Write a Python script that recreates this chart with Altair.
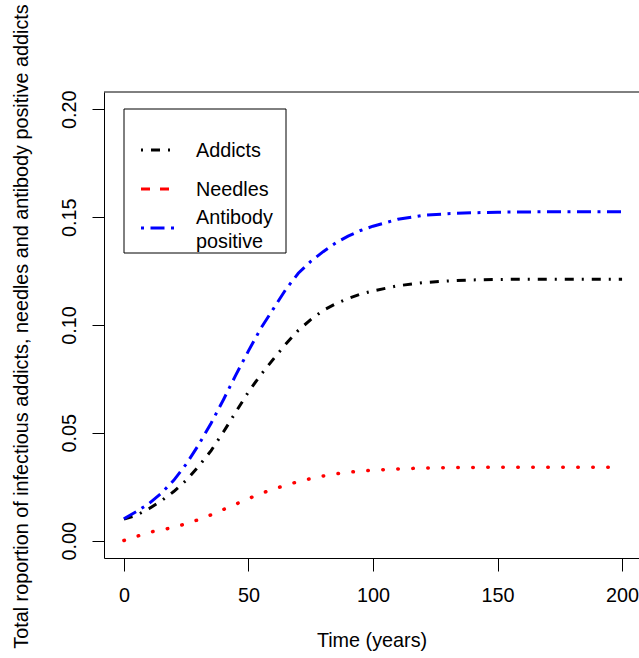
import altair as alt
import pandas as pd

# ---- data ----
time = [0, 5, 10, 15, 20, 25, 30, 35, 40, 45, 50, 55, 60, 65, 70, 75, 80, 85, 90, 95, 100,
        110, 120, 130, 140, 150, 160, 170, 180, 190, 200]
addicts = [0.0100, 0.0118, 0.0148, 0.0185, 0.0228, 0.0280, 0.0345, 0.0418, 0.0505, 0.0598,
           0.0690, 0.0770, 0.0842, 0.0912, 0.0975, 0.1025, 0.1068, 0.1098, 0.1123, 0.1143,
           0.1158, 0.1182, 0.1196, 0.1204, 0.1209, 0.1211, 0.1212, 0.1212, 0.1212, 0.1212, 0.1212]
needles = [0.0001, 0.0020, 0.0039, 0.0050, 0.0062, 0.0079, 0.0098, 0.0120, 0.0145, 0.0170,
           0.0195, 0.0219, 0.0239, 0.0258, 0.0274, 0.0288, 0.0300, 0.0310, 0.0317, 0.0323,
           0.0327, 0.0333, 0.0337, 0.0339, 0.0340, 0.0341, 0.0341, 0.0341, 0.0341, 0.0341, 0.0341]
antibody = [0.0102, 0.0135, 0.0172, 0.0220, 0.0280, 0.0355, 0.0445, 0.0545, 0.0655, 0.0770,
            0.0880, 0.0985, 0.1075, 0.1165, 0.1240, 0.1295, 0.1340, 0.1380, 0.1412, 0.1438,
            0.1458, 0.1490, 0.1508, 0.1516, 0.1520, 0.1523, 0.1524, 0.1525, 0.1525, 0.1525, 0.1525]
x_ticks = [0, 50, 100, 150, 200]
y_ticks = [0, 0.05, 0.10, 0.15, 0.20]
x_title = "Time (years)"
y_title = "Total roportion of infectious addicts, needles and antibody positive addicts"

df = pd.DataFrame({"time": time, "Addicts": addicts, "Needles": needles,
                   "Antibody positive": antibody})
long = df.melt("time", var_name="series", value_name="value")

FONT = "Liberation Sans"
FS = 19.8
W, H = 535, 466

xscale = alt.Scale(domain=[-8, 206.8], nice=False, zero=False)
yscale = alt.Scale(domain=[-0.008, 0.208], nice=False, zero=False)

xaxis = alt.Axis(values=x_ticks, title=x_title, grid=False, tickSize=13, tickColor="black",
                 domainColor="black", labelFont=FONT, labelFontSize=FS, labelColor="black",
                 labelPadding=14, labelFlush=False, labelOverlap=False,
                 titleFont=FONT, titleFontSize=FS, titleFontWeight="normal", titleColor="black",
                 titleY=82, titleBaseline="middle")
yaxis = alt.Axis(values=y_ticks, format=".2f", title=y_title, grid=False, tickSize=12,
                 tickColor="black", domainColor="black", labelFont=FONT, labelFontSize=FS,
                 labelColor="black", labelAngle=270, labelAlign="center", labelBaseline="bottom",
                 labelPadding=13, labelFlush=False, labelOverlap=False,
                 titleFont=FONT, titleFontSize=FS, titleFontWeight="normal", titleColor="black",
                 titleAngle=270, titleX=-83, titleY=234, titleAlign="center",
                 titleBaseline="middle")


def series_line(name, color, dash, cap="butt", width=3):
    return alt.Chart(long).transform_filter(alt.datum.series == name).mark_line(
        color=color, strokeDash=dash, strokeCap=cap, strokeWidth=width
    ).encode(
        x=alt.X("time:Q", scale=xscale, axis=xaxis),
        y=alt.Y("value:Q", scale=yscale, axis=yaxis),
    )


black_dash = [9, 8, 2, 8]
blue_dash = [14, 6.5, 3, 6.5]

l_add = series_line("Addicts", "black", black_dash)
l_ab = series_line("Antibody positive", "#0000FF", blue_dash)
l_nd = series_line("Needles", "#FF0000", [0.5, 14.5], cap="round", width=3.5)

one = pd.DataFrame({"k": [0]})

top_border = alt.Chart(one).mark_rule(color="black", strokeWidth=1).encode(
    x=alt.value(0), x2=alt.value(W), y=alt.value(0))

legend_box = alt.Chart(one).mark_rect(fill="white", stroke="black", strokeWidth=1).encode(
    x=alt.value(20), x2=alt.value(182), y=alt.value(17), y2=alt.value(161))

leg_add = alt.Chart(one).mark_rule(color="black", strokeWidth=3, strokeDash=black_dash,
                                   strokeDashOffset=17).encode(
    x=alt.value(37), x2=alt.value(68), y=alt.value(58))
leg_nd = alt.Chart(one).mark_rule(color="#FF0000", strokeWidth=3, strokeDash=[9, 10]).encode(
    x=alt.value(37), x2=alt.value(66), y=alt.value(97))
leg_ab = alt.Chart(one).mark_rule(color="#0000FF", strokeWidth=3, strokeDash=blue_dash,
                                  strokeDashOffset=20.5).encode(
    x=alt.value(37), x2=alt.value(71), y=alt.value(136))


def leg_text(txt, y):
    return alt.Chart(one).mark_text(text=txt, font=FONT, fontSize=FS, color="black",
                                    align="left", baseline="middle").encode(
        x=alt.value(92), y=alt.value(y))


chart = alt.layer(
    l_nd, l_add, l_ab, top_border, legend_box, leg_add, leg_nd, leg_ab,
    leg_text("Addicts", 59), leg_text("Needles", 98),
    leg_text("Antibody", 126), leg_text("positive", 150),
).properties(
    width=W, height=H,
    autosize=alt.AutoSizeParams(type="none"),
    padding={"left": 104, "top": 92, "right": 0, "bottom": 100},
    background="white",
).configure_view(stroke=None)

chart.save("out.html", embed_options={"renderer": "svg", "actions": False})
